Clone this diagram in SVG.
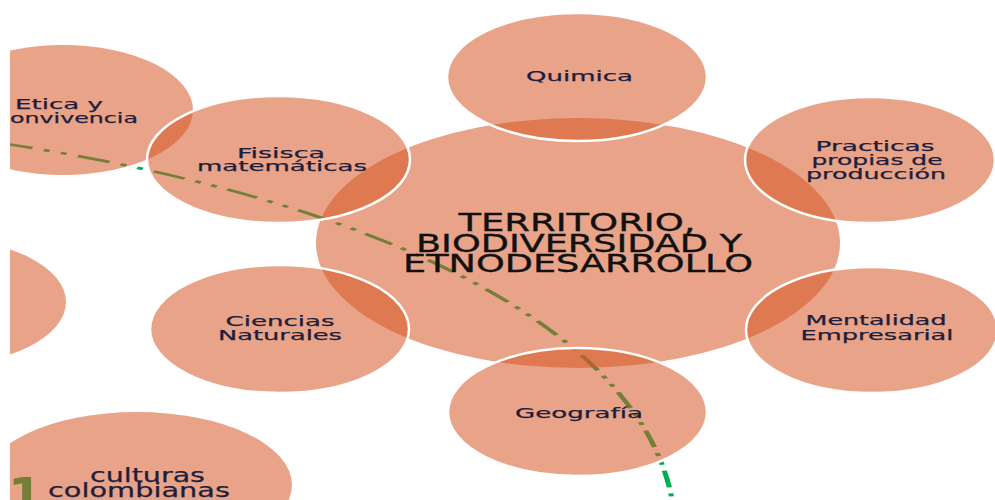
<svg xmlns="http://www.w3.org/2000/svg" width="995" height="500" viewBox="0 0 995 500">
<defs>
<clipPath id="clip"><rect x="10" y="0" width="985" height="500"/></clipPath>
<style>
.c{fill:#D55827;fill-opacity:0.55;stroke:#ffffff;stroke-width:2.5}
.ns{stroke:none}
.t{font-family:"DejaVu Sans","Liberation Sans",sans-serif;font-size:14.5px;fill:#1e1e3c;stroke:#1e1e3c;stroke-width:0.25;text-anchor:middle}
.big{font-family:"DejaVu Sans","Liberation Sans",sans-serif;font-size:25px;fill:#111111;stroke:#111111;stroke-width:0.35;text-anchor:middle}
.cul{font-family:"DejaVu Sans","Liberation Sans",sans-serif;font-size:19px;fill:#1e1e3c;stroke:#1e1e3c;stroke-width:0.25;text-anchor:middle}
.ln{fill:none;stroke:#00b050;stroke-width:2.6;stroke-dasharray:17 6 3 6 3 6}
</style>
</defs>
<rect x="0" y="0" width="995" height="500" fill="#ffffff"/>
<g clip-path="url(#clip)">
<g id="connectors">
<path class="ln" transform="scale(2,1)" d="M0,143 C175,195 325,320 337,512"/>
</g>
<g id="central">
<ellipse class="c ns" cx="578" cy="243" rx="262" ry="125"/>
<text class="big" x="577" y="231" textLength="237" lengthAdjust="spacingAndGlyphs">TERRITORIO,</text>
<text class="big" x="579" y="252" textLength="326" lengthAdjust="spacingAndGlyphs">BIODIVERSIDAD Y</text>
<text class="big" x="578" y="272" textLength="350" lengthAdjust="spacingAndGlyphs">ETNODESARROLLO</text>
</g>
<g id="quimica">
<ellipse class="c" cx="577" cy="77" rx="130" ry="64"/>
<text class="t" x="579.5" y="81" textLength="107" lengthAdjust="spacingAndGlyphs">Quimica</text>
</g>
<g id="practicas">
<ellipse class="c" cx="870" cy="160" rx="125" ry="63"/>
<text class="t" x="875" y="151" textLength="119" lengthAdjust="spacingAndGlyphs">Practicas</text>
<text class="t" x="877" y="165" textLength="131" lengthAdjust="spacingAndGlyphs">propias de</text>
<text class="t" x="876" y="179" textLength="140" lengthAdjust="spacingAndGlyphs">producción</text>
</g>
<g id="mentalidad">
<ellipse class="c" cx="872" cy="330" rx="126" ry="63"/>
<text class="t" x="876" y="325" textLength="141" lengthAdjust="spacingAndGlyphs">Mentalidad</text>
<text class="t" x="877" y="340" textLength="153" lengthAdjust="spacingAndGlyphs">Empresarial</text>
</g>
<g id="geografia">
<ellipse class="c" cx="577.5" cy="412" rx="129.5" ry="64"/>
<text class="t" x="579" y="418" textLength="128" lengthAdjust="spacingAndGlyphs">Geografía</text>
</g>
<g id="ciencias">
<ellipse class="c" cx="279.5" cy="329" rx="129.5" ry="64"/>
<text class="t" x="280" y="326" textLength="109" lengthAdjust="spacingAndGlyphs">Ciencias</text>
<text class="t" x="280" y="340" textLength="124" lengthAdjust="spacingAndGlyphs">Naturales</text>
</g>
<g id="etica">
<ellipse class="c ns" cx="63" cy="110" rx="130" ry="65"/>
<text class="t" x="59" y="109" textLength="88" lengthAdjust="spacingAndGlyphs">Etica y</text>
<text class="t" x="10" y="123" textLength="128" lengthAdjust="spacingAndGlyphs" style="text-anchor:start">onvivencia</text>
</g>
<g id="fisica">
<ellipse class="c" cx="278.5" cy="159.5" rx="131.5" ry="63.5"/>
<text class="t" x="281" y="158" textLength="88" lengthAdjust="spacingAndGlyphs">Fisisca</text>
<text class="t" x="282" y="171" textLength="170" lengthAdjust="spacingAndGlyphs">matemáticas</text>
</g>
<g id="left-node">
<ellipse class="c ns" cx="-64" cy="302" rx="130" ry="64"/>
</g>
<g id="number">
<text x="8" y="513" style="font-family:'DejaVu Sans','Liberation Sans',sans-serif;font-size:50px;font-weight:bold;fill:#00b050">1</text>
</g>
<g id="culturas">
<ellipse class="c ns" cx="137" cy="485" rx="155" ry="73"/>
<text class="cul" x="147.5" y="482" textLength="115" lengthAdjust="spacingAndGlyphs">culturas</text>
<text class="cul" x="139" y="497" textLength="182" lengthAdjust="spacingAndGlyphs">colombianas</text>
</g>
</g>
</svg>
